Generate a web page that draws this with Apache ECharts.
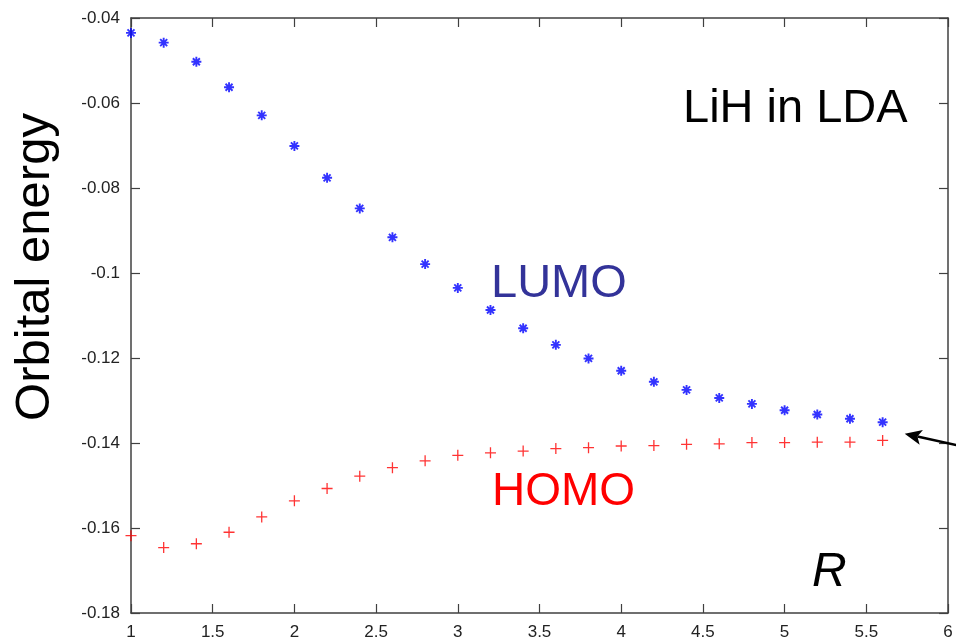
<!DOCTYPE html>
<html>
<head>
<meta charset="utf-8">
<script src="https://cdn.jsdelivr.net/npm/echarts@6/dist/echarts.min.js"></script>
<style>html,body{margin:0;padding:0;background:#fff;}#c{width:956px;height:639px;}</style>
</head>
<body>
<div id="c"></div>
<script>
const R = [1.0,1.2,1.4,1.6,1.8,2.0,2.2,2.4,2.6,2.8,3.0,3.2,3.4,3.6,3.8,4.0,4.2,4.4,4.6,4.8,5.0,5.2,5.4,5.6];
const lumo = [-0.0435,-0.0458,-0.0503,-0.0563,-0.0629,-0.0701,-0.0776,-0.0848,-0.0916,-0.0979,-0.1035,-0.1087,-0.1130,-0.1169,-0.1201,-0.1230,-0.1256,-0.1275,-0.1294,-0.1308,-0.1323,-0.1333,-0.1343,-0.1351];
const homo = [-0.1618,-0.1646,-0.1637,-0.1610,-0.1574,-0.1536,-0.1507,-0.1478,-0.1458,-0.1442,-0.1429,-0.1423,-0.1419,-0.1413,-0.1411,-0.1407,-0.1406,-0.1403,-0.1402,-0.1399,-0.1399,-0.1398,-0.1398,-0.1394];
const xMin = 1, xMax = 6, xStep = 0.5;
const yMin = -0.18, yMax = -0.04, yStep = 0.02;
const arrowFrom = [6.05, -0.1405];
const arrowTo = [5.735, -0.1378];

const font = '"Liberation Sans", Arial, Helvetica, sans-serif';
const axisCol = '#404040';
const chart = echarts.init(document.getElementById('c'));
const star = 'path://M0,5L10,5M5,0L5,10M1.5,1.5L8.5,8.5M8.5,1.5L1.5,8.5';
const plus = 'path://M0,5L10,5M5,0L5,10';
function xa(pos, show){
  return {type:'value', position:pos, min:xMin, max:xMax, interval:xStep,
    axisLine:{show:true, onZero:false, lineStyle:{color:axisCol, width:1.5}},
    axisTick:{show:true, inside:true, length:9, lineStyle:{color:axisCol, width:1.2}},
    axisLabel:{show:show, color:'#222', fontSize:17, fontFamily:font, margin:11},
    splitLine:{show:false}};
}
function ya(pos, show){
  return {type:'value', position:pos, min:yMin, max:yMax, interval:yStep,
    axisLine:{show:true, onZero:false, lineStyle:{color:axisCol, width:1.5}},
    axisTick:{show:true, inside:true, length:9, lineStyle:{color:axisCol, width:1.2}},
    axisLabel:{show:show, color:'#222', fontSize:17, fontFamily:font, margin:11,
      formatter: v => String(+v.toFixed(4))},
    splitLine:{show:false}};
}
function txt(id, s, left, top, size, color, italic){
  return {type:'text', id:id, left:left, top:top, z:20,
    style:{text:s, fontSize:size, fontFamily:font, fontWeight:'normal', fontStyle: italic ? 'italic' : 'normal', fill:color}};
}
chart.setOption({
  animation:false,
  backgroundColor:'#fff',
  grid:{left:131, top:18, right:8, bottom:26, containLabel:false, outerBoundsMode:'none'},
  xAxis:[xa('bottom', true), xa('top', false)],
  yAxis:[ya('left', true), ya('right', false)],
  series:[
    {type:'scatter', name:'LUMO', xAxisIndex:0, yAxisIndex:0, clip:false,
     data:R.map((r,i)=>[r,lumo[i]]), symbol:star, symbolSize:10,
     itemStyle:{color:'none', borderColor:'#0000ff', borderWidth:1.9}},
    {type:'scatter', name:'HOMO', xAxisIndex:0, yAxisIndex:0, clip:false,
     data:R.map((r,i)=>[r,homo[i]]), symbol:plus, symbolSize:11,
     itemStyle:{color:'none', borderColor:'#ff0000', borderWidth:1.3}}
  ]
});
// arrow annotation, placed through the chart's own scales
const p1 = chart.convertToPixel({gridIndex:0}, arrowFrom);
const p2 = chart.convertToPixel({gridIndex:0}, arrowTo);
const ang = Math.atan2(p2[1]-p1[1], p2[0]-p1[0]);
const hl = 17, hw = 7.5;
const bx = p2[0]-hl*Math.cos(ang), by = p2[1]-hl*Math.sin(ang);
const nx = -Math.sin(ang), ny = Math.cos(ang);
chart.setOption({graphic:[
  txt('t1', 'LiH in LDA', 683, 86, 47, '#000', false),
  txt('t2', 'LUMO', 491, 261, 47, '#333399', false),
  txt('t3', 'HOMO', 492, 469, 46, '#ff0000', false),
  txt('t4', 'R', 812, 549, 48, '#000', true),
  {type:'text', id:'t5', x:59.5, y:267, rotation:Math.PI/2, z:20,
   style:{text:'Orbital energy', fontSize:49, fontFamily:font, fontWeight:'normal', fill:'#000', align:'center', verticalAlign:'bottom'}},
  {type:'line', id:'a1', shape:{x1:p1[0], y1:p1[1], x2:bx+4*Math.cos(ang), y2:by+4*Math.sin(ang)}, style:{stroke:'#000', lineWidth:2.4}, z:10},
  {type:'polygon', id:'a2', shape:{points:[[p2[0],p2[1]],[bx+nx*hw, by+ny*hw],[bx+4*Math.cos(ang), by+4*Math.sin(ang)],[bx-nx*hw, by-ny*hw]]}, style:{fill:'#000'}, z:10}
]});
</script>
</body>
</html>
